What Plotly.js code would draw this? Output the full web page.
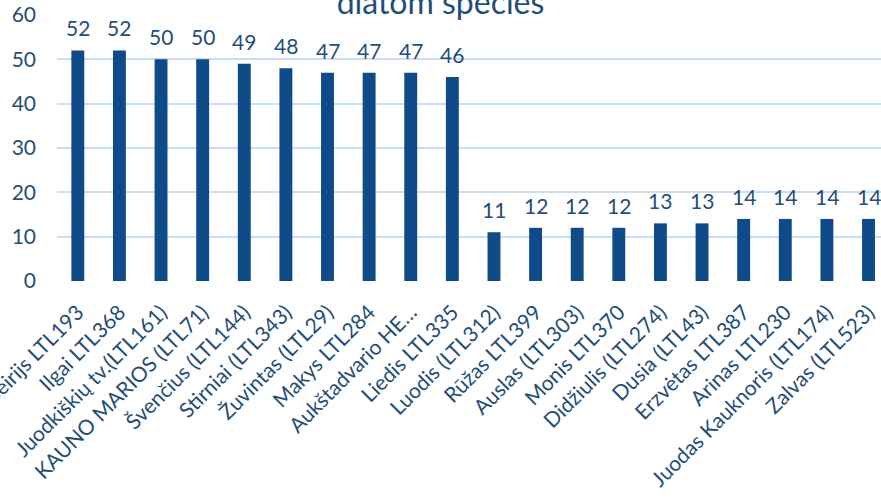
<!DOCTYPE html>
<html><head><meta charset="utf-8">
<script src="https://cdn.plot.ly/plotly-3.0.1.min.js"></script>
<style>html,body{margin:0;padding:0;overflow:hidden;background:#fff}</style>
</head><body>
<div id="chart" style="width:881px;height:497px"></div>
<script>
const categories = ["Seirijs LTL193","Ilgai LTL368","Juodkiškių tv.(LTL161)","KAUNO MARIOS (LTL71)","Švenčius (LTL144)","Stirniai (LTL343)","Žuvintas (LTL29)","Makys LTL284","Aukštadvario HE…","Liedis LTL335","Luodis (LTL312)","Rūžas LTL399","Auslas (LTL303)","Monis LTL370","Didžiulis (LTL274)","Dusia (LTL43)","Erzvėtas LTL387","Arinas LTL230","Juodas Kauknoris (LTL174)","Zalvas (LTL523)"];
const values = [52,52,50,50,49,48,47,47,47,46,11,12,12,12,13,13,14,14,14,14];
const yTicks = [0,10,20,30,40,50,60];
const titleText = "diatom species";

const txt = '#1F4E79';
const fontFam = 'Lato, "Open Sans", sans-serif';
const idx = categories.map((c,i)=>i);

const annotations = values.map((v,i)=>({
  x: i, y: v, xref:'x', yref:'y', text: String(v), showarrow:false,
  yanchor:'bottom', yshift: 8, font:{family:fontFam, size:21, color:txt}
}));

Plotly.newPlot('chart', [{
  type:'bar', x: idx, y: values, width: 0.31,
  marker:{color:'#0F4A89'}, hoverinfo:'none'
}], {
  width:881, height:497,
  margin:{l:57, r:0, t:15, b:216, pad:0},
  paper_bgcolor:'#fff', plot_bgcolor:'#fff',
  showlegend:false,
  title:{text:titleText, x:0.5, xanchor:'center', xref:'container', y:0.971, yref:'container', yanchor:'bottom', font:{family:fontFam, size:32, color:txt}},
  xaxis:{tickmode:'array', tickvals: idx, ticktext: categories, tickangle:-45, range:[-0.5,19.3],
    showgrid:false, zeroline:false, showline:false, ticks:'', ticklabelstandoff:14, ticklabeloverflow:'allow',
    tickfont:{family:fontFam, size:21, color:txt}},
  yaxis:{range:[0,60], tickvals:yTicks, showgrid:true, gridcolor:'#C9DEF4', gridwidth:2, zeroline:false,
    showline:false, ticks:'', ticklabelstandoff:20, tickfont:{family:fontFam, size:21, color:txt}},
  annotations: annotations
}, {staticPlot:true});
</script>
</body></html>
